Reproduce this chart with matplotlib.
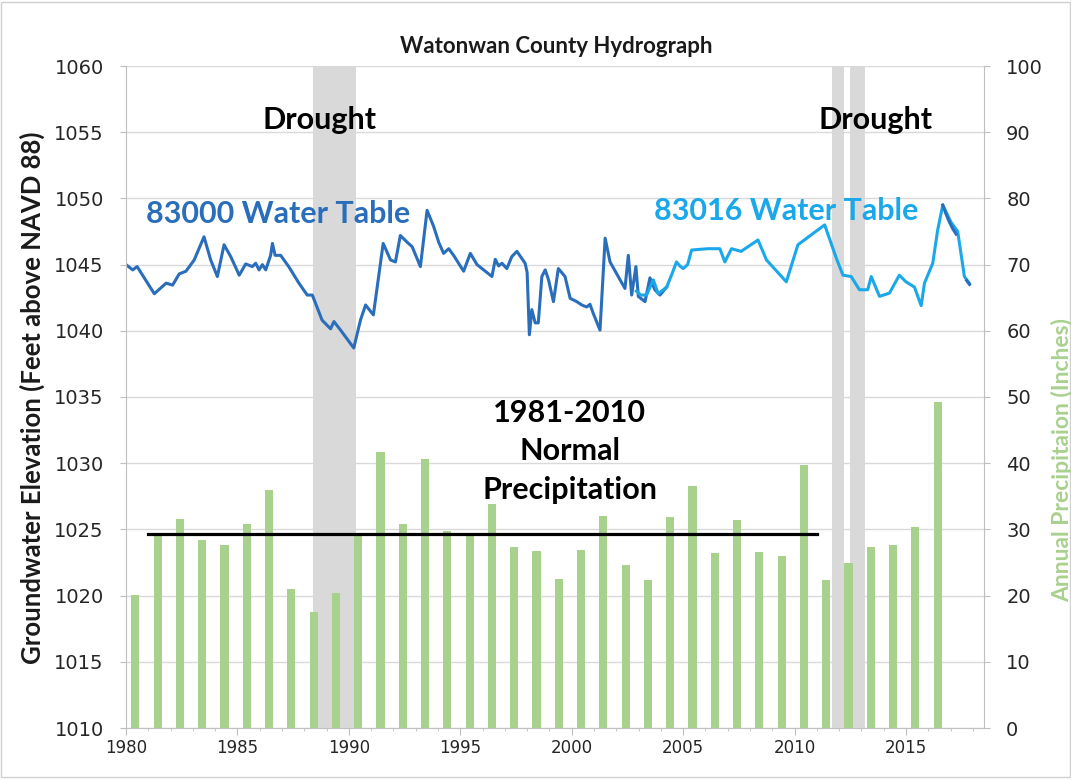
import matplotlib
matplotlib.use("Agg")
import matplotlib.pyplot as plt
import matplotlib.patches as mpatches
import numpy as np

# annual precipitation (inches), one bar per year
precip_years = list(range(1980, 2017))
precip = [20.1, 29.0, 31.6, 28.4, 27.7, 30.8, 36.0, 21.0, 17.5, 20.4,
          29.0, 41.7, 30.8, 40.7, 29.7, 29.5, 33.8, 27.4, 26.7, 22.5,
          26.9, 32.0, 24.6, 22.4, 31.9, 36.6, 26.5, 31.4, 26.6, 26.0,
          39.7, 22.3, 25.0, 27.4, 27.7, 30.4, 49.2]

# 1981-2010 normal precipitation
normal_years = [1981, 2011]
normal_precip = 29.3

# drought periods (decimal years)
droughts = [(1988.37, 1990.34), (2011.7, 2012.24), (2012.47, 2013.18)]

# well 83000 water table (decimal year, feet above NAVD 88)
w83000_t = [1980.0, 1980.3, 1980.5, 1980.63, 1981.27, 1981.8, 1982.09, 1982.39,
            1982.69, 1983.06, 1983.5, 1983.8, 1984.1, 1984.4, 1984.7, 1985.08,
            1985.37, 1985.67, 1985.82, 1985.97, 1986.12, 1986.27, 1986.49, 1986.57,
            1986.69, 1986.94, 1987.3, 1987.76, 1988.13, 1988.36, 1988.8, 1989.18,
            1989.33, 1989.63, 1990.22, 1990.52, 1990.75, 1991.1, 1991.54, 1991.87,
            1992.09, 1992.31, 1992.61, 1992.84, 1993.21, 1993.51, 1993.8, 1994.03,
            1994.25, 1994.48, 1994.7, 1995.15, 1995.45, 1995.75, 1996.42, 1996.57,
            1996.72, 1996.87, 1997.09, 1997.31, 1997.54, 1997.91, 1998.0, 1998.1,
            1998.21, 1998.36, 1998.5, 1998.66, 1998.81, 1998.96, 1999.18, 1999.4,
            1999.7, 1999.93, 2000.23, 2000.45, 2000.67, 2000.82, 2000.97, 2001.27,
            2001.5, 2001.72, 2002.17, 2002.39, 2002.54, 2002.69, 2002.88, 2002.99,
            2003.29, 2003.51, 2003.73, 2003.96, 2004.26]
w83000_z = [1045.0, 1044.6, 1044.85, 1044.5, 1042.8, 1043.6, 1043.45, 1044.3,
            1044.5, 1045.35, 1047.1, 1045.35, 1044.1, 1046.5, 1045.6, 1044.2,
            1045.05, 1044.85, 1045.1, 1044.6, 1045.0, 1044.6, 1045.7, 1046.6,
            1045.7, 1045.7, 1044.85, 1043.6, 1042.7, 1042.7, 1040.8, 1040.15,
            1040.7, 1040.05, 1038.7, 1040.8, 1041.95, 1041.2, 1046.6, 1045.35,
            1045.2, 1047.2, 1046.7, 1046.35, 1044.85, 1049.1, 1047.9, 1046.7,
            1045.85, 1046.2, 1045.7, 1044.5, 1045.85, 1045.0, 1044.1, 1045.4,
            1044.9, 1045.1, 1044.7, 1045.6, 1046.0, 1045.1, 1044.4, 1039.7,
            1041.6, 1040.6, 1040.6, 1044.1, 1044.6, 1043.85, 1042.2, 1044.7,
            1044.1, 1042.45, 1042.2, 1041.95, 1041.8, 1042.0, 1041.3, 1040.05,
            1047.0, 1045.2, 1043.85, 1043.2, 1045.7, 1042.7, 1044.85, 1042.6,
            1042.2, 1044.0, 1043.1, 1042.7, 1043.3]

# well 83000 late readings (overlapping 83016)
w83000_late_t = [2016.65, 2016.8, 2016.95, 2017.1, 2017.25, np.nan, 2017.72, 2017.85]
w83000_late_z = [1049.5, 1048.8, 1048.2, 1047.7, 1047.3, np.nan, 1043.8, 1043.5]

# well 83016 water table
w83016_t = [2002.9, 2003.1, 2003.36, 2003.66, 2003.88, 2004.26, 2004.5, 2004.7,
            2004.85, 2005.0, 2005.2, 2005.38, 2006.1, 2006.65, 2006.87, 2007.17,
            2007.6, 2008.36, 2008.74, 2009.63, 2010.15, 2011.35, 2011.87, 2012.17,
            2012.54, 2012.91, 2013.28, 2013.44, 2013.81, 2014.26, 2014.7, 2015.0,
            2015.38, 2015.68, 2015.83, 2016.2, 2016.42, 2016.65, 2017.02, 2017.32,
            2017.62, 2017.84]
w83016_z = [1043.0, 1042.7, 1042.7, 1043.85, 1042.8, 1043.3, 1044.3, 1045.2,
            1044.9, 1044.7, 1045.0, 1046.1, 1046.2, 1046.2, 1045.2, 1046.2,
            1046.0, 1046.86, 1045.35, 1043.7, 1046.5, 1048.0, 1045.5, 1044.2,
            1044.1, 1043.1, 1043.1, 1044.1, 1042.6, 1042.85, 1044.2, 1043.7,
            1043.3, 1041.9, 1043.6, 1045.1, 1047.6, 1049.5, 1048.2, 1047.5,
            1044.1, 1043.6]

plt.rcParams["font.family"] = ["DejaVu Sans"]
dark_blue = "#2a6ebb"
light_blue = "#1aa8ea"
green = "#a9d18e"
axis_gray = "#bfbfbf"
tick_color = "#262626"

fig = plt.figure(figsize=(10.71, 7.79), dpi=100)
ax = fig.add_axes([126 / 1071, 51 / 779, 858 / 1071, 662 / 779])
ax2 = ax.twinx()
ax.set_zorder(2)
ax.patch.set_visible(False)
ax2.set_zorder(1)

# precipitation axis (right, behind)
ax2.set_ylim(0, 100)
ax2.set_yticks(range(0, 101, 10))
ax2.set_axisbelow(True)
ax2.grid(axis="y", color="#d9d9d9", lw=1)
for a, b in droughts:
    ax2.axvspan(a, b, color="#d9d9d9", lw=0, zorder=1)
ax2.bar(np.array(precip_years) + 0.42, precip, width=0.37, color=green, zorder=2)
ax2.plot(normal_years, [normal_precip, normal_precip], color="black", lw=2.3, zorder=3)

# water table axis (left, front)
ax.plot(w83000_t, w83000_z, color=dark_blue, lw=2.2)
ax.plot(w83016_t, w83016_z, color=light_blue, lw=2.2)
ax.plot(w83000_late_t, w83000_late_z, color=dark_blue, lw=2.2)
ax.set_xlim(1980, 2018.5)
ax.set_ylim(1010, 1060)
ax.set_yticks(range(1010, 1061, 5))
ax.set_xticks(range(1980, 2016, 5))
ax.set_xticks(range(1980, 2019), minor=True)

for s in ["top", "right"]:
    ax.spines[s].set_visible(False)
for s in ["top", "left", "bottom"]:
    ax2.spines[s].set_visible(False)
ax.spines["left"].set_color(axis_gray)
ax.spines["bottom"].set_color(axis_gray)
ax2.spines["right"].set_color(axis_gray)

ax.tick_params(axis="x", which="major", length=5, color=axis_gray,
               labelsize=12, labelcolor=tick_color, pad=3)
ax.tick_params(axis="x", which="minor", length=2.5, color=axis_gray)
ax.tick_params(axis="y", length=4, color=axis_gray, labelsize=14,
               labelcolor=tick_color, pad=12)
ax2.tick_params(axis="y", length=4, color=axis_gray, labelsize=14,
                labelcolor=tick_color, pad=12)

# annotations
ax.text(0.226, 0.918, "Drought", transform=ax.transAxes, ha="center", va="center",
        fontsize=22, fontweight="bold", family="Lato", color="black")
ax.text(0.873, 0.918, "Drought", transform=ax.transAxes, ha="center", va="center",
        fontsize=22, fontweight="bold", family="Lato", color="black")
ax.text(0.177, 0.776, "83000 Water Table", transform=ax.transAxes, ha="center",
        va="center", fontsize=22, fontweight="bold", family="Lato", color=dark_blue)
ax.text(0.770, 0.781, "83016 Water Table", transform=ax.transAxes, ha="center",
        va="center", fontsize=22, fontweight="bold", family="Lato", color=light_blue)
ax.text(0.517, 0.418, "1981-2010\nNormal\nPrecipitation", transform=ax.transAxes,
        ha="center", va="center", fontsize=22, fontweight="bold", family="Lato",
        color="black", linespacing=1.45)

fig.text(0.519, 0.94, "Watonwan County Hydrograph", ha="center", va="center",
         fontsize=16, fontweight="bold", family="Lato", color="#1a1a1a")
fig.text(0.030, 0.49, "Groundwater Elevation (Feet above NAVD 88)", rotation=90,
         ha="center", va="center", fontsize=18.5, fontweight="bold", family="Lato",
         color="#1a1a1a")
fig.text(0.9916, 0.409, "Annual Precipitaion (Inches)", rotation=90,
         ha="center", va="center", fontsize=16.5, fontweight="bold", family="Lato",
         color=green)

fig.patches.append(mpatches.Rectangle((0.001, 0.002), 0.998, 0.996, transform=fig.transFigure,
                                      fill=False, edgecolor="#d0d0d0", lw=1))

fig.savefig("out.png", dpi=100)
